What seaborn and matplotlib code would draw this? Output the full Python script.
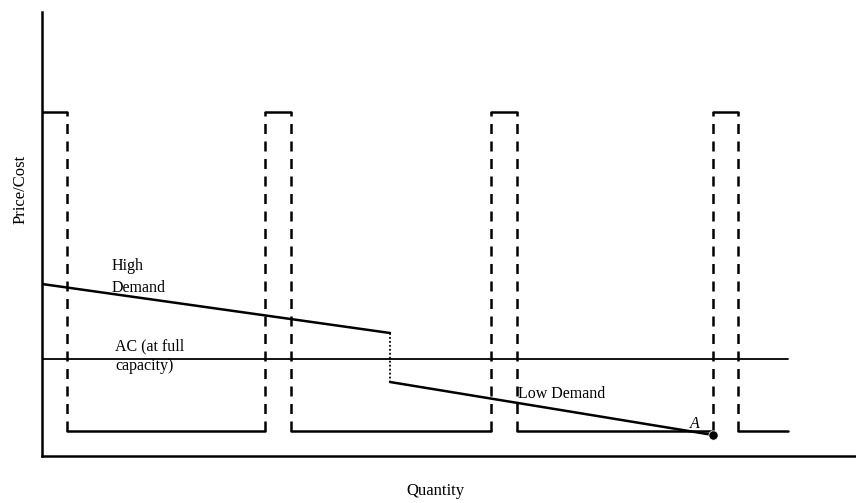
import matplotlib
matplotlib.use("Agg")
import matplotlib.pyplot as plt
import seaborn as sns
import pandas as pd

# ---- data (quantity / price units) ----
step_edges = [0, 25, 223, 249, 449, 475, 671, 696, 746]
step_levels = [344, 25, 344, 25, 344, 25, 344, 25]   # high/low cost levels
high_demand_q = [0, 348]
high_demand_p = [172, 123]
low_demand_q = [348, 671]
low_demand_p = [74, 21]
ac_q = [0, 746]
ac_p = [97, 97]
point_A = (671, 21)

sns.set_theme(style="white")
plt.rcParams['font.family'] = ['Liberation Serif', 'DejaVu Serif']
plt.rcParams['text.color'] = 'black'
plt.rcParams['axes.labelcolor'] = 'black'

fig = plt.figure(figsize=(8.56, 5.03), dpi=100)
ax = fig.add_axes([42/856, 47/503, 1 - 42/856, (456-12)/503])
ax.set_xlim(0, 814)
ax.set_ylim(0, 444)

# step cost curve: solid horizontals, dashed verticals
for i, lvl in enumerate(step_levels):
    seg = pd.DataFrame({"q": [step_edges[i], step_edges[i+1]], "p": [lvl, lvl]})
    sns.lineplot(data=seg, x="q", y="p", ax=ax, color="black", lw=1.8,
                 sort=False, estimator=None)
for e in step_edges[1:-1]:
    seg = pd.DataFrame({"q": [e, e], "p": [min(step_levels), max(step_levels)]})
    sns.lineplot(data=seg, x="q", y="p", ax=ax, color="black", lw=1.8,
                 linestyle=(0, (4, 3)), sort=False, estimator=None)

# demand curves
hd = pd.DataFrame({"q": high_demand_q, "p": high_demand_p})
ld = pd.DataFrame({"q": low_demand_q, "p": low_demand_p})
ac = pd.DataFrame({"q": ac_q, "p": ac_p})
sns.lineplot(data=hd, x="q", y="p", ax=ax, color="black", lw=1.8, sort=False, estimator=None)
sns.lineplot(data=ld, x="q", y="p", ax=ax, color="black", lw=1.8, sort=False, estimator=None)
sns.lineplot(data=ac, x="q", y="p", ax=ax, color="black", lw=1.3, sort=False, estimator=None)
jump = pd.DataFrame({"q": [high_demand_q[1], low_demand_q[0]],
                     "p": [high_demand_p[1], low_demand_p[0]]})
sns.lineplot(data=jump, x="q", y="p", ax=ax, color="black", lw=1.3,
             linestyle=(0, (1, 1.2)), sort=False, estimator=None)

sns.scatterplot(x=[point_A[0]], y=[point_A[1]], ax=ax, color="black", s=45, zorder=5)

fs = 11.5
kw = dict(fontsize=fs, ha="left", va="baseline", color="black")
ax.text(70, 186, "High", **kw)
ax.text(70, 164, "Demand", **kw)
ax.text(73, 106, "AC (at full", **kw)
ax.text(73, 86, "capacity)", **kw)
ax.text(476, 58, "Low Demand", **kw)
ax.text(648, 28, "A", style="italic", **kw)

ax.set_xticks([])
ax.set_yticks([])
ax.set_xlabel("Quantity", fontsize=fs + 0.5, color="black")
ax.set_ylabel("Price/Cost", fontsize=fs + 0.5, color="black")
ax.xaxis.set_label_coords(0.483, -0.06)
ax.yaxis.set_label_coords(-0.016, 0.6)
for s in ["top", "right"]:
    ax.spines[s].set_visible(False)
for s in ["left", "bottom"]:
    ax.spines[s].set_color("black")
    ax.spines[s].set_linewidth(1.8)

fig.savefig("out.png", dpi=100)
